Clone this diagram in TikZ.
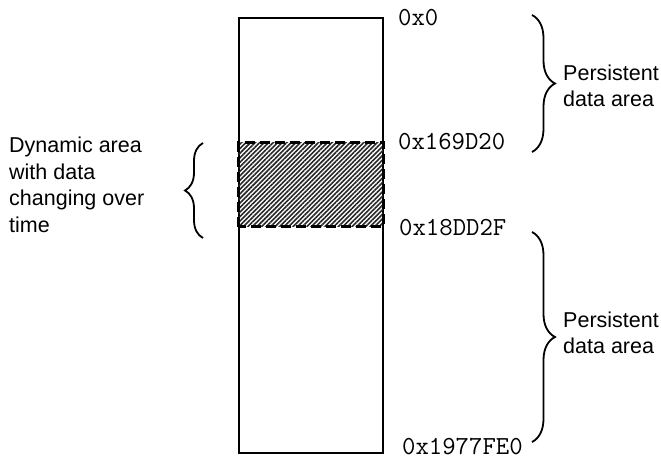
\documentclass[tikz,border=0pt]{standalone}
\usepackage{fontspec}
\setmainfont{Liberation Sans}
\usetikzlibrary{decorations.pathreplacing,patterns.meta}
\tikzset{
  memline/.style={line width=2pt, draw=black},
  dynbox/.style={line width=3pt, dash pattern=on 10pt off 5pt,
    pattern={Lines[angle=45,distance=3.2pt,line width=1.6pt]}, pattern color=black!85},
  addr/.style={anchor=west, inner sep=0pt, font=\ttfamily\fontsize{26}{28}\selectfont},
  note/.style={anchor=west, inner sep=0pt, align=left, font=\fontsize{21.5}{26.5}\selectfont},
  curly/.style={decorate, line width=1.8pt, decoration={brace, amplitude=#1}}
}
\begin{document}
\begin{tikzpicture}[x=1pt,y=1pt]
  \useasboundingbox (0,0) rectangle (661,461);
  % memory column
  \draw[memline] (238.5,8) rectangle (383,442.7);
  % region that changes at run time
  \draw[dynbox] (238.5,234) rectangle (383,318);
  % address labels
  \node[addr] (a0) at (398,443) {0x0};
  \node[addr] (a1) at (398,319) {0x169D20};
  \node[addr] (a2) at (399,233) {0x18DD2F};
  \node[addr] (a3) at (402,14) {0x1977FE0};
  % braces
  \coordinate (b1s) at (532,446); \coordinate (b1e) at (532,309);
  \coordinate (b2s) at (532,229); \coordinate (b2e) at (532,19);
  \coordinate (b3s) at (203,223); \coordinate (b3e) at (203,318);
  \draw[curly=23pt] (b1s) -- (b1e);
  \draw[curly=23pt] (b2s) -- (b2e);
  \draw[curly=18pt] (b3s) -- (b3e);
  % descriptions
  \node[note] (p1) at (563,375) {Persistent\\data area};
  \node[note] (p2) at (563,128) {Persistent\\data area};
  \node[note] (dy) at (9,276) {Dynamic area\\with data\\changing over\\time};
\end{tikzpicture}
\end{document}
